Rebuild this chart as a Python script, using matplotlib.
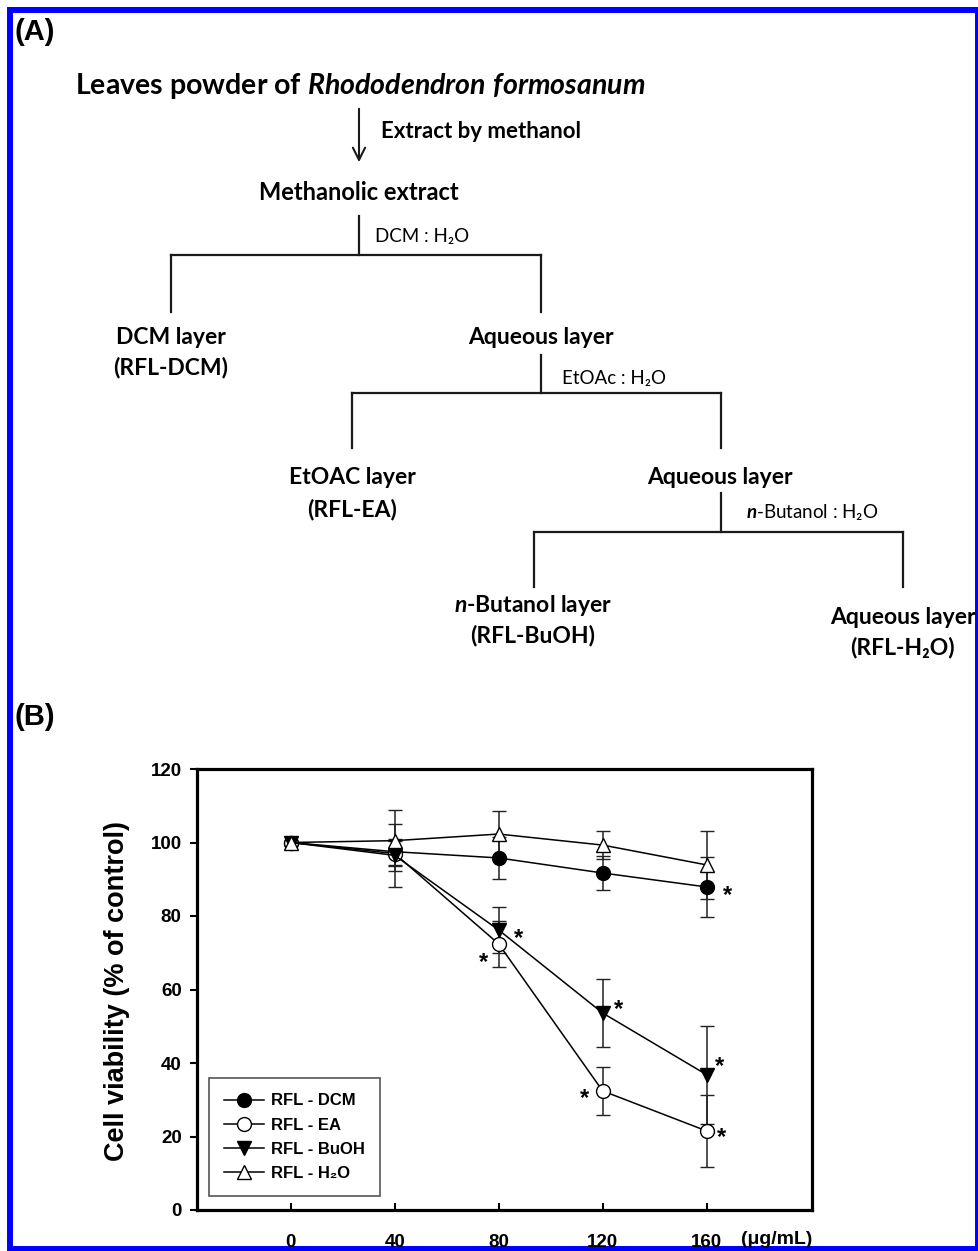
import matplotlib
matplotlib.use('Agg')
import matplotlib.pyplot as plt
from matplotlib.patches import Rectangle
from matplotlib.lines import Line2D

# ---------------- data (panel B) ----------------
conc = [0, 40, 80, 120, 160]
conc_labels = ['0', '40', '80', '120', '160']
dcm = [100, 97.5, 95.8, 91.7, 87.9]
dcm_err = [0, 3.5, 5.7, 4.6, 8.2]
ea = [100, 97.0, 72.4, 32.4, 21.5]
ea_err = [0, 3.5, 6.3, 6.5, 9.7]
buoh = [100, 96.5, 76.2, 53.6, 36.8]
buoh_err = [0, 8.5, 6.2, 9.2, 13.4]
h2o = [100, 100.5, 102.3, 99.3, 93.9]
h2o_err = [0, 8.3, 6.3, 3.8, 9.3]
series_names = ['RFL - DCM', 'RFL - EA', 'RFL - BuOH', 'RFL - H\u2082O']
yticks = [0, 20, 40, 60, 80, 100, 120]
# significance marks: (series index, x value, dx px, dy px)
stars = [(0, 160, 21, -2), (2, 80, 20, -2), (1, 80, -15, -12), (2, 120, 16, 10),
         (1, 120, -18, -1), (2, 160, 13, 15), (1, 160, 15, 0)]

W, H = 979, 1251
plt.rcParams['mathtext.fontset'] = 'custom'
plt.rcParams['mathtext.it'] = 'Lato:italic:bold'
plt.rcParams['mathtext.rm'] = 'Lato:bold'

fig = plt.figure(figsize=(W / 100, H / 100), dpi=100)

# ---------------- overlay (panel A + frame) ----------------
ov = fig.add_axes([0, 0, 1, 1])
ov.set_xlim(0, W)
ov.set_ylim(H, 0)
ov.axis('off')

ov.add_patch(Rectangle((10, 10), 968, 1239, fill=False, edgecolor='#0000ff', lw=4.3))

FL = ['Lato', 'DejaVu Sans']
AR = ['Liberation Sans', 'DejaVu Sans']
LC = '#1a1a1a'
LW = 1.6
BIG = 16.5
SMALL = 13.5

ov.text(15, 32, '(A)', family=AR, fontsize=21, fontweight='bold', ha='left', va='center')
ov.text(15, 717, '(B)', family=AR, fontsize=21, fontweight='bold', ha='left', va='center')

ov.text(360, 86, 'Leaves powder of $\\mathit{Rhododendron\\ formosanum}$', family=FL,
        fontsize=20.5, fontweight='bold', ha='center', va='center')
ov.annotate('', xy=(359, 165), xytext=(359, 106),
            arrowprops=dict(arrowstyle='->', lw=1.5, color=LC, mutation_scale=22))
ov.text(381, 131, 'Extract by methanol', family=FL, fontsize=16, fontweight='bold',
        ha='left', va='center')
ov.text(359, 193, 'Methanolic extract', family=FL, fontsize=17, fontweight='bold',
        ha='center', va='center')


def branch(xc, ytop, ybar, xl, xr, ybot):
    ov.plot([xc, xc], [ytop, ybar], color=LC, lw=LW)
    ov.plot([xl, xr], [ybar, ybar], color=LC, lw=LW, solid_capstyle='projecting')
    ov.plot([xl, xl], [ybar, ybot], color=LC, lw=LW)
    ov.plot([xr, xr], [ybar, ybot], color=LC, lw=LW)


branch(359, 216, 255, 171, 541, 312)
ov.text(375, 236, 'DCM : H\u2082O', family=FL, fontsize=SMALL, ha='left', va='center')
ov.text(171, 337, 'DCM layer', family=FL, fontsize=BIG, fontweight='bold', ha='center', va='center')
ov.text(171, 367, '(RFL-DCM)', family=FL, fontsize=BIG, fontweight='bold', ha='center', va='center')
ov.text(541, 337, 'Aqueous layer', family=FL, fontsize=BIG, fontweight='bold', ha='center', va='center')

branch(541, 355, 393, 352, 721, 448)
ov.text(562, 378, 'EtOAc : H\u2082O', family=FL, fontsize=SMALL, ha='left', va='center')
ov.text(352, 478, 'EtOAC layer', family=FL, fontsize=BIG, fontweight='bold', ha='center', va='center')
ov.text(352, 509, '(RFL-EA)', family=FL, fontsize=BIG, fontweight='bold', ha='center', va='center')
ov.text(720, 478, 'Aqueous layer', family=FL, fontsize=BIG, fontweight='bold', ha='center', va='center')

branch(721, 493, 532, 534, 903, 587)
ov.text(746, 512, '$\\mathit{n}$-Butanol : H\u2082O', family=FL, fontsize=SMALL, ha='left', va='center')
ov.text(533, 606, '$\\mathit{n}$-Butanol layer', family=FL, fontsize=BIG, fontweight='bold',
        ha='center', va='center')
ov.text(533, 636, '(RFL-BuOH)', family=FL, fontsize=BIG, fontweight='bold', ha='center', va='center')
ov.text(903, 617, 'Aqueous layer', family=FL, fontsize=BIG, fontweight='bold', ha='center', va='center')
ov.text(902, 648, '(RFL-H\u2082O)', family=FL, fontsize=BIG, fontweight='bold', ha='center', va='center')

# ---------------- panel B ----------------
ax = fig.add_axes([197 / W, 1 - 1210 / H, (812 - 197) / W, (1210 - 769) / H])
ax.set_xlim(-36, 200.5)
ax.set_ylim(0, 120)

data = [dcm, ea, buoh, h2o]
errs = [dcm_err, ea_err, buoh_err, h2o_err]
markers = ['o', 'o', 'v', '^']
faces = ['black', 'white', 'black', 'white']
handles = []
for vals, err, mk, fc, name in zip(data, errs, markers, faces, series_names):
    ax.errorbar(conc, vals, yerr=err, fmt='-', marker=mk, mfc=fc, mec='black',
                mew=1.0, ms=10, color='black', lw=1.1, ecolor='#222222',
                elinewidth=1.1, capsize=5, capthick=1.1, errorevery=(1, 1))
    handles.append(Line2D([], [], color='black', lw=1.1, marker=mk, mfc=fc, mec='black',
                          mew=1.0, ms=10, label=name))

for si, xv, dx, dy in stars:
    yv = data[si][conc.index(xv)]
    ax.annotate('*', xy=(xv, yv), xytext=(dx, dy - 13), textcoords='offset pixels',
                ha='center', va='baseline', fontsize=17, fontweight='bold', family=AR)

ax.set_xticks(conc)
ax.set_xticklabels(conc_labels)
ax.set_yticks(yticks)
ax.tick_params(axis='x', direction='in', length=5, width=1.5, pad=17, labelsize=13.5)
ax.tick_params(axis='y', direction='out', length=5, width=1.5, pad=6, labelsize=13.5)
for lab in ax.get_xticklabels() + ax.get_yticklabels():
    lab.set_fontweight('bold')
    lab.set_family(AR)
for sp in ax.spines.values():
    sp.set_linewidth(2.3)

fig.text(117 / W, 1 - 991 / H, 'Cell viability (% of control)', rotation=90, family=AR,
         fontsize=19.5, fontweight='bold', ha='center', va='center')
fig.text(777 / W, 1 - 1240 / H, '(\u03bcg/mL)', family=AR, fontsize=14, fontweight='bold',
         ha='center', va='center')

leg = ax.legend(handles=handles, loc='lower left', bbox_to_anchor=(0.0195, 0.032),
                borderaxespad=0, fancybox=False, edgecolor='#555555', framealpha=1,
                handlelength=2.4, handletextpad=0.4, labelspacing=0.55, borderpad=0.9,
                prop={'family': AR, 'size': 12, 'weight': 'bold'})
leg.get_frame().set_linewidth(1.2)

fig.savefig('out.png', dpi=100)
